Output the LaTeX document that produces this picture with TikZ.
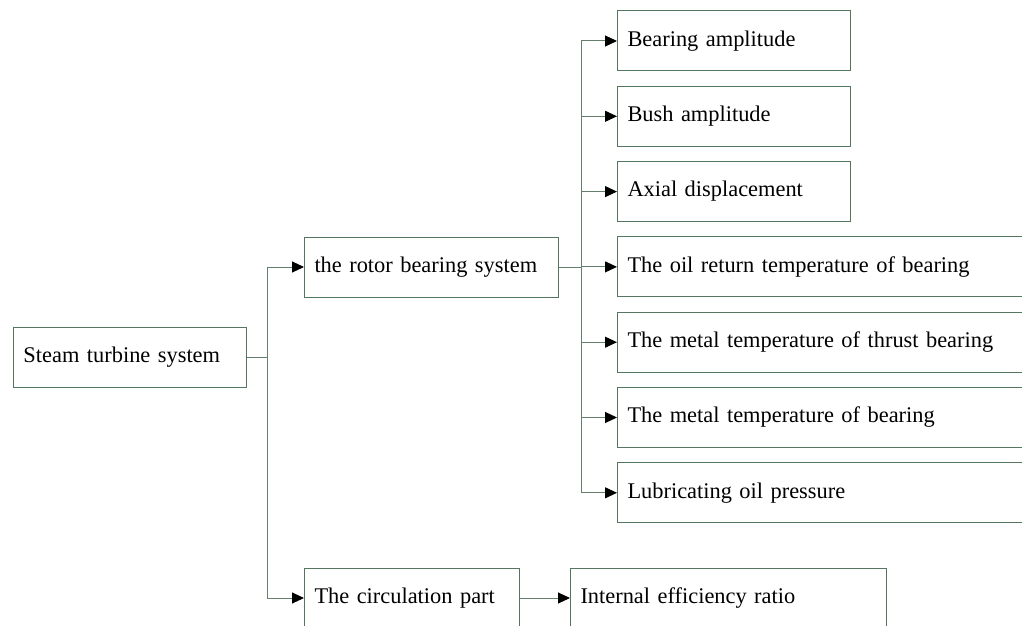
\documentclass[tikz,border=0pt]{standalone}
\usepackage{fontspec}
\setmainfont{Liberation Serif}
\usetikzlibrary{arrows.meta}
\definecolor{boxgreen}{RGB}{84,118,94}
\definecolor{linegreen}{RGB}{100,128,108}
\begin{document}
\begin{tikzpicture}[x=0.5pt,y=-0.5pt,line width=0.5pt,
  every node/.style={font=\fontsize{11.2}{14}\selectfont},
  item/.style={draw=boxgreen,rectangle,anchor=west,minimum height=30pt,inner ysep=0pt,inner xsep=5pt,align=left},
  conn/.style={draw=linegreen},
  arr/.style={conn,-{Triangle[length=6pt,width=5.5pt,color=black]}}]
\useasboundingbox (0,0) rectangle (1022,626);
\clip (0,0) rectangle (1022,626);
% left column
\node[item,text width=106.5pt] (sts) at (13,357) {Steam turbine system};
\node[item,text width=117pt] (rotor) at (304,267) {the rotor bearing system};
\node[item,text width=97.5pt] (circ) at (304,598) {The circulation part};
\node[item,text width=148pt] (eff) at (570,598) {Internal efficiency ratio};
% monitored items of the rotor bearing system
\foreach \i/\w/\txt in {0/106.5/Bearing amplitude,1/106.5/Bush amplitude,2/106.5/Axial displacement,
  3/205/The oil return temperature of bearing,4/205/The metal temperature of thrust bearing,
  5/205/The metal temperature of bearing,6/205/Lubricating oil pressure} {
  \node[item,text width=\w pt] (b\i) at (617,41+75.3*\i) {\txt};
}
% connectors
\coordinate (j1) at (267,357);
\draw[conn] (sts.east) -- (j1);
\draw[arr] (j1) |- (rotor.west);
\draw[arr] (j1) |- (circ.west);
\coordinate (j2) at (581,267);
\draw[conn] (rotor.east) -- (j2);
\foreach \i in {0,...,6} \draw[arr] (j2) |- (b\i.west);
\draw[arr] (circ.east) -- (eff.west);
\end{tikzpicture}
\end{document}
